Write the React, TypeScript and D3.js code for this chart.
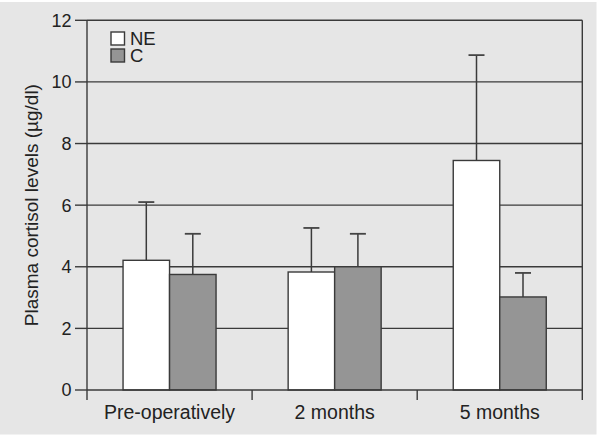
import React from "react";
import * as d3 from "d3";

const categories = ["Pre-operatively", "2 months", "5 months"];
const seriesNames = ["NE", "C"];
const neMeans = [4.21, 3.83, 7.45];
const neErr = [6.1, 5.26, 10.87];
const cMeans = [3.75, 4.0, 3.02];
const cErr = [5.07, 5.07, 3.8];
const yTicks = [0, 2, 4, 6, 8, 10, 12];

const W = 600, H = 438;
const left = 87, right = 582.3, top = 20.3, bottom = 390;
const font = "'Liberation Sans', Arial, Helvetica, sans-serif";
const lineColor = "#3a3a3a";
const fills = ["#ffffff", "#959595"];

export default function App() {
  const x = d3.scaleBand<string>().domain(categories).range([left, right]).paddingInner(0).paddingOuter(0);
  const y = d3.scaleLinear().domain([0, 12]).range([bottom, top]);
  const barW = 46.5;
  const series = [
    { name: seriesNames[0], means: neMeans, errs: neErr, fill: fills[0] },
    { name: seriesNames[1], means: cMeans, errs: cErr, fill: fills[1] },
  ];
  return (
    <svg width={W} height={H} style={{ position: "absolute", left: 0, top: 0 }}>
      <rect x={0} y={0} width={W} height={H} fill="#ffffff" />
      <rect x={0} y={2} width={596.5} height={432.5} fill="#e6e6e6" />
      {yTicks.filter((t) => t > 0).map((t) => (
        <line key={"g" + t} x1={left} x2={right} y1={y(t)} y2={y(t)} stroke={lineColor} strokeWidth={1.4} />
      ))}
      {yTicks.map((t) => (
        <g key={"t" + t}>
          <line x1={left - 12} x2={left} y1={y(t)} y2={y(t)} stroke={lineColor} strokeWidth={1.4} />
          <text x={71.5} y={y(t)} dy="0.36em" textAnchor="end" fontFamily={font} fontSize={18} fill="#222">{t}</text>
        </g>
      ))}
      {categories.map((c, i) => {
        const cx = (x(c) as number) + x.bandwidth() / 2;
        return (
          <g key={c}>
            {series.map((s, j) => {
              const bx = cx - barW + j * barW;
              const mid = bx + barW / 2;
              return (
                <g key={s.name}>
                  <line x1={mid} x2={mid} y1={y(s.errs[i])} y2={y(s.means[i])} stroke={lineColor} strokeWidth={1.5} />
                  <line x1={mid - 8} x2={mid + 8} y1={y(s.errs[i])} y2={y(s.errs[i])} stroke="#444" strokeWidth={1.8} />
                  <rect x={bx} y={y(s.means[i])} width={barW} height={bottom - y(s.means[i])} fill={s.fill} stroke={lineColor} strokeWidth={1.4} />
                </g>
              );
            })}
          </g>
        );
      })}
      <line x1={left} x2={left} y1={top} y2={bottom + 10} stroke={lineColor} strokeWidth={1.4} />
      <line x1={right} x2={right} y1={top} y2={bottom + 10} stroke={lineColor} strokeWidth={1.4} />
      <line x1={left} x2={right} y1={bottom} y2={bottom} stroke={lineColor} strokeWidth={1.4} />
      {categories.slice(1).map((c) => (
        <line key={"xt" + c} x1={x(c) as number} x2={x(c) as number} y1={bottom} y2={bottom + 10} stroke={lineColor} strokeWidth={1.4} />
      ))}
      {categories.map((c) => (
        <text key={"xl" + c} x={(x(c) as number) + x.bandwidth() / 2} y={418.5} textAnchor="middle" fontFamily={font} fontSize={19.5} fill="#222">{c}</text>
      ))}
      <text transform={`translate(38,${(top + bottom) / 2}) rotate(-90)`} textAnchor="middle" fontFamily={font} fontSize={19} fill="#222">Plasma cortisol levels (µg/dl)</text>
      {series.map((s, j) => (
        <g key={"lg" + s.name}>
          <rect x={111} y={32 + j * 17} width={13.5} height={13} fill={s.fill} stroke={lineColor} strokeWidth={1.4} />
          <text x={130} y={44.5 + j * 17} fontFamily={font} fontSize={18.5} fill="#222">{s.name}</text>
        </g>
      ))}
    </svg>
  );
}
